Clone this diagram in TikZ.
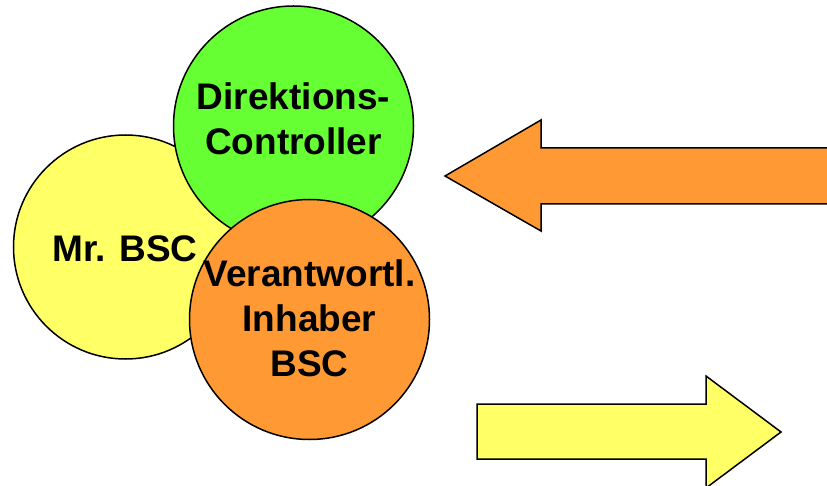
\documentclass[tikz,border=0pt]{standalone}
\usepackage{fontspec}
\setmainfont{Liberation Sans}
\definecolor{bubbleyellow}{HTML}{FFFF66}
\definecolor{bubblegreen}{HTML}{66FF33}
\definecolor{bubbleorange}{HTML}{FF9933}
\begin{document}
\begin{tikzpicture}[x=1pt, y=-1pt,
  bubble/.style={circle, draw=black, line width=1.5pt, inner sep=0pt},
  label/.style={font=\fontsize{37}{45}\selectfont\bfseries, align=center, inner sep=0pt},
  bigarrow/.style={draw=black, line width=1.5pt, line join=miter}]
  \useasboundingbox (0,0) rectangle (827,486);
  \clip (0,0) rectangle (827,486);

  % three overlapping circles
  \node[bubble, fill=bubbleyellow, minimum size=224pt] (mr) at (125.5,247) {};
  \node[bubble, fill=bubblegreen, minimum size=240pt] (dc) at (293.5,126) {};
  \node[bubble, fill=bubbleorange, minimum size=240pt] (vi) at (309.5,319.5) {};

  \node[label, anchor=base] (mrtext) at (125,262) {Mr. BSC};
  \node[label] (dctext) at (293.5,119) {Direktions-\\Controller};
  \node[label] (vitext) at (309.5,318) {Verantwortl.\\Inhaber\\BSC};

  % block arrow pointing left
  \draw[bigarrow, fill=bubbleorange]
    (835,148) -- (541,148) -- (541,120) -- (445,176) -- (541,231) -- (541,204) -- (835,204) -- cycle;

  % block arrow pointing right
  \draw[bigarrow, fill=bubbleyellow]
    (477,404) -- (706,404) -- (706,376) -- (781,432) -- (706,488) -- (706,459) -- (477,459) -- cycle;
\end{tikzpicture}
\end{document}
